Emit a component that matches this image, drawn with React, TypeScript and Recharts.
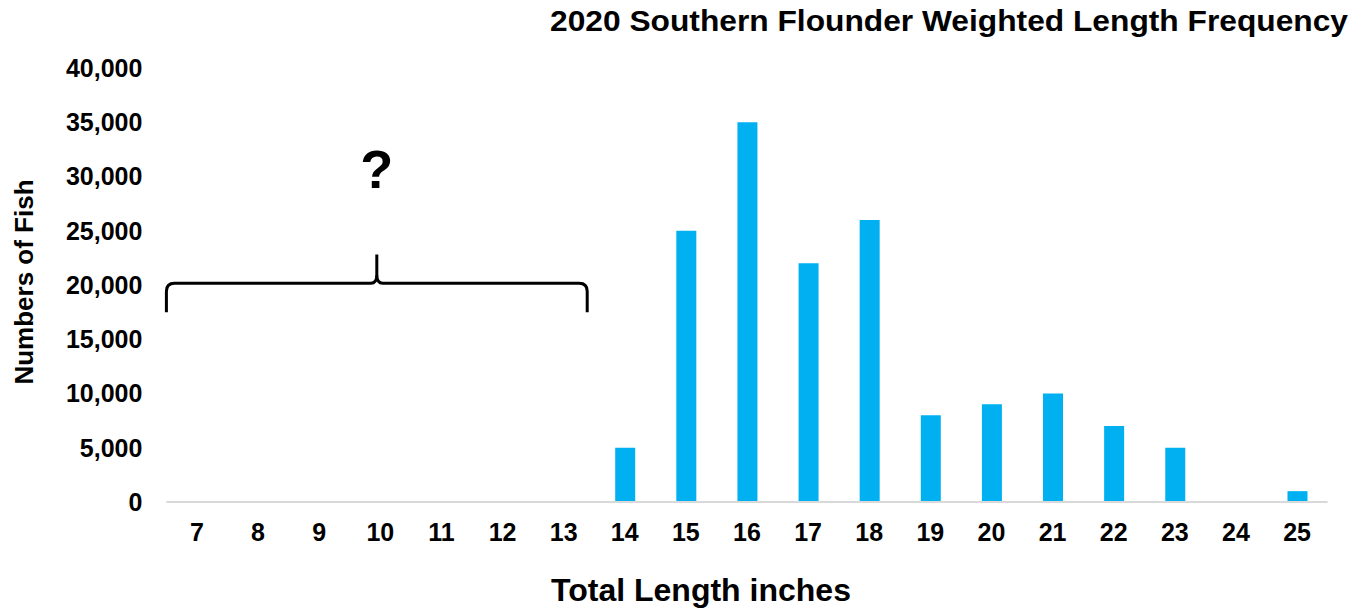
import React from 'react';
import { BarChart, Bar, XAxis, YAxis, ReferenceArea, Customized } from 'recharts';

const lengths: number[] = [7, 8, 9, 10, 11, 12, 13, 14, 15, 16, 17, 18, 19, 20, 21, 22, 23, 24, 25];
const fishCounts: (number | null)[] = [null, null, null, null, null, null, null, 5000, 25000, 35000, 22000, 26000, 8000, 9000, 10000, 7000, 5000, 0, 1000];
const yTicks: number[] = [0, 5000, 10000, 15000, 20000, 25000, 30000, 35000, 40000];
const unknownRange: number[] = [7, 13];
const braceValues: number[] = [17500, 22800];

const titleText = '2020 Southern Flounder Weighted Length Frequency';
const xLabelText = 'Total Length inches';
const yLabelText = 'Numbers of Fish';
const unknownMark = '?';

const data = lengths.map((len, i) => ({ len, count: fishCounts[i] }));

const FONT = '"Liberation Sans", Arial, sans-serif';

const BraceShape = (props: any) => {
  const { x, y, width, height } = props;
  const L = x;
  const R = x + width - 7;
  const C = (L + R) / 2;
  const yt = y;
  const yb = y + height;
  const ym = y + height / 2;
  const r = 8;
  const left = `M ${L} ${yb} L ${L} ${ym + r} Q ${L} ${ym} ${L + r} ${ym} L ${C - 6} ${ym} Q ${C} ${ym} ${C} ${ym - 8} L ${C} ${yt}`;
  const right = `M ${C} ${ym - 8} Q ${C} ${ym} ${C + 6} ${ym} L ${R - r} ${ym} Q ${R} ${ym} ${R} ${ym + r} L ${R} ${yb}`;
  return (
    <g>
      <path d={left} stroke="#000" strokeWidth={3} fill="none" />
      <path d={right} stroke="#000" strokeWidth={3} fill="none" />
      <text x={C} y={yt - 67} textAnchor="middle" fontFamily={FONT} fontWeight="bold" fontSize={54} fill="#000">
        {unknownMark}
      </text>
    </g>
  );
};

const Texts = () => (
  <g>
    <text
      x={1348}
      y={31}
      textAnchor="end"
      fontFamily={FONT}
      fontWeight="bold"
      fontSize={29}
      fill="#000"
      textLength={798}
      lengthAdjust="spacingAndGlyphs"
    >
      {titleText}
    </text>
    <text x={701} y={601} textAnchor="middle" fontFamily={FONT} fontWeight="bold" fontSize={32} fill="#000">
      {xLabelText}
    </text>
    <text
      x={33}
      y={282}
      transform="rotate(-90 33 282)"
      textAnchor="middle"
      fontFamily={FONT}
      fontWeight="bold"
      fontSize={26}
      fill="#000"
    >
      {yLabelText}
    </text>
  </g>
);

export default function App() {
  return (
    <div style={{ position: 'absolute', left: 0, top: 0, width: 1357, height: 610, background: '#fff' }}>
      <BarChart
        width={1357}
        height={610}
        data={data}
        margin={{ top: 68, right: 29.4, bottom: 48, left: 66.4 }}
      >
        <XAxis
          dataKey="len"
          type="category"
          interval={0}
          height={60}
          tickLine={false}
          tickSize={0}
          tickMargin={21}
          axisLine={{ stroke: '#d9d9d9', strokeWidth: 2 }}
          tick={{ fill: '#000', fontSize: 25, fontWeight: 'bold', fontFamily: FONT }}
        />
        <YAxis
          width={100}
          domain={[0, 40000]}
          ticks={yTicks}
          interval={0}
          axisLine={false}
          tickLine={false}
          tickSize={0}
          tickMargin={24}
          tickFormatter={(v: number) => v.toLocaleString('en-US')}
          tick={{ fill: '#000', fontSize: 25, fontWeight: 'bold', fontFamily: FONT }}
        />
        <Bar dataKey="count" fill="#00B0F0" barSize={20} isAnimationActive={false} />
        <ReferenceArea
          x1={unknownRange[0]}
          x2={unknownRange[1]}
          y1={braceValues[0]}
          y2={braceValues[1]}
          shape={<BraceShape />}
          ifOverflow="visible"
        />
        <Customized component={Texts} />
      </BarChart>
    </div>
  );
}
